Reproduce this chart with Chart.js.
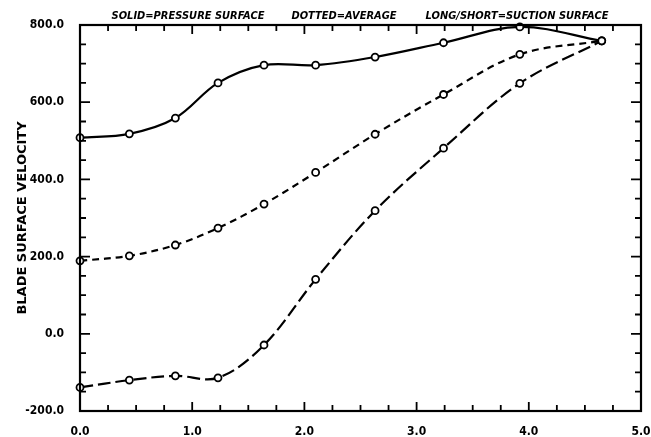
<!DOCTYPE html>
<html>
<head>
<meta charset="utf-8">
<script src="https://cdn.jsdelivr.net/npm/chart.js@4"></script>
<style>
  html, body { margin: 0; padding: 0; background: #fff; }
  #wrap { width: 651px; height: 437px; }
</style>
</head>
<body>
<div id="wrap"><canvas id="bladeChart" width="651" height="437"></canvas></div>
<script>
// 데이터
const chordPos = [0.0, 0.44, 0.85, 1.23, 1.64, 2.10, 2.63, 3.24, 3.92, 4.65];
const pressureSurface = [508, 518, 559, 650, 696, 696, 717, 754, 795, 759];
const averageVelocity = [189, 202, 230, 274, 336, 418, 517, 620, 724, 759];
const suctionSurface = [-139, -120, -109, -114, -29, 141, 319, 481, 649, 759];
const xTickLabels = ['0.0', '1.0', '2.0', '3.0', '4.0', '5.0'];
const yTickLabels = ['-200.0', '0.0', '200.0', '400.0', '600.0', '800.0'];
const headerTexts = ['SOLID=PRESSURE SURFACE', 'DOTTED=AVERAGE', 'LONG/SHORT=SUCTION SURFACE'];

const labelFont = { family: 'DejaVu Sans Condensed', size: 12, weight: 'bold' };

function toPoints(values) {
    return chordPos.map((x, i) => ({ x: x, y: values[i] }));
}

function lineSet(label, values, dash) {
    return {
        label: label,
        data: toPoints(values),
        borderColor: '#000',
        borderWidth: 2.2,
        borderDash: dash,
        backgroundColor: '#fff',
        pointBackgroundColor: '#fff',
        pointBorderColor: '#000',
        pointBorderWidth: 1.8,
        pointRadius: 3.5,
        tension: 0.35,
        clip: false
    };
}

// 테두리, 안쪽 눈금, 머리글
const framePlugin = {
    id: 'frame',
    afterDraw(chart) {
        const ctx = chart.ctx;
        const a = chart.chartArea;
        const xs = chart.scales.x, ys = chart.scales.y;
        ctx.save();
        ctx.strokeStyle = '#000';
        ctx.lineWidth = 2.2;
        ctx.setLineDash([]);
        ctx.strokeRect(a.left, a.top, a.right - a.left, a.bottom - a.top);
        ctx.lineWidth = 1.8;
        xs.ticks.forEach(t => {
            const px = xs.getPixelForValue(t.value);
            const len = Math.abs(t.value - Math.round(t.value)) < 1e-6 ? 9 : 6;
            ctx.beginPath();
            ctx.moveTo(px, a.bottom); ctx.lineTo(px, a.bottom - len);
            ctx.moveTo(px, a.top); ctx.lineTo(px, a.top + len);
            ctx.stroke();
        });
        ys.ticks.forEach(t => {
            const py = ys.getPixelForValue(t.value);
            const len = t.value % 200 === 0 ? 10 : 6;
            ctx.beginPath();
            ctx.moveTo(a.left, py); ctx.lineTo(a.left + len, py);
            ctx.moveTo(a.right, py); ctx.lineTo(a.right - len, py);
            ctx.stroke();
        });
        ctx.fillStyle = '#000';
        ctx.font = 'italic bold 11px "DejaVu Sans Condensed"';
        ctx.textAlign = 'center';
        ctx.textBaseline = 'middle';
        ctx.fillText(headerTexts[0], 188, 16);
        ctx.fillText(headerTexts[1], 344, 16);
        ctx.fillText(headerTexts[2], 517, 16);
        ctx.restore();
    }
};

const ctx = document.getElementById('bladeChart').getContext('2d');
new Chart(ctx, {
    type: 'line',
    data: {
        datasets: [
            lineSet('pressure', pressureSurface, []),
            lineSet('average', averageVelocity, [7, 5]),
            lineSet('suction', suctionSurface, [13, 5])
        ]
    },
    options: {
        responsive: false,
        animation: false,
        layout: { padding: { left: 0, right: 10, top: 25, bottom: 0 } },
        plugins: { legend: { display: false }, tooltip: { enabled: false } },
        scales: {
            x: {
                type: 'linear',
                min: 0, max: 5,
                grid: { display: false, drawTicks: false },
                border: { display: false },
                ticks: {
                    stepSize: 0.25,
                    autoSkip: false,
                    maxRotation: 0,
                    padding: 14,
                    color: '#000',
                    font: labelFont,
                    callback: v => Number.isInteger(v) ? xTickLabels[v] : ''
                },
                afterFit: s => { s.height = 26; s.paddingLeft = 0; s.paddingRight = 0; }
            },
            y: {
                min: -200, max: 800,
                grid: { display: false, drawTicks: false },
                border: { display: false },
                ticks: {
                    stepSize: 50,
                    autoSkip: false,
                    padding: 16,
                    color: '#000',
                    font: labelFont,
                    callback: v => v % 200 === 0 ? yTickLabels[(v + 200) / 200] : ''
                },
                title: {
                    display: true,
                    text: 'BLADE SURFACE VELOCITY',
                    color: '#000',
                    font: { family: 'DejaVu Sans', size: 13, weight: 'bold' },
                    padding: { top: 15, bottom: 0 }
                },
                afterFit: s => { s.width = 80; }
            }
        }
    },
    plugins: [framePlugin]
});
</script>
</body>
</html>
